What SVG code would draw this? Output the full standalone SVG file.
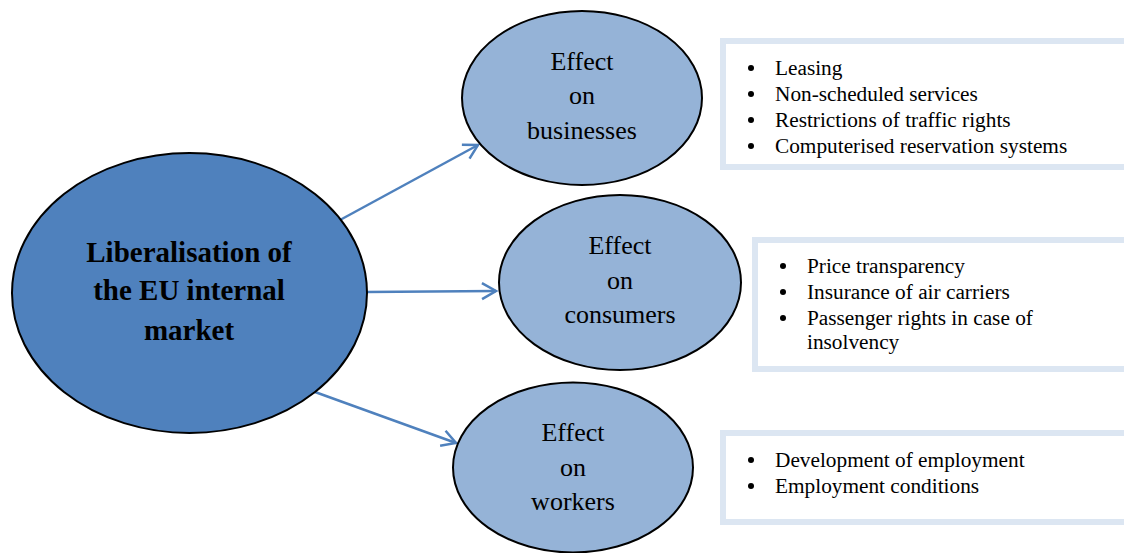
<svg xmlns="http://www.w3.org/2000/svg" width="1124" height="553" viewBox="0 0 1124 553">
<style>
.main{fill:#4f81bd;stroke:#000;stroke-width:2}
.sub{fill:#95b3d7;stroke:#000;stroke-width:2}
.box{fill:#fff;stroke:#dce6f2;stroke-width:6}
.conn{stroke:#4f81bd;stroke-width:2.5;fill:none}
.t{font-family:"Liberation Serif","Times New Roman",serif;fill:#000}
.mt{font-size:29px;font-weight:bold;text-anchor:middle}
.st{font-size:26px;text-anchor:middle}
.bt{font-size:21.3px}
</style>
<defs>
<marker id="ah" markerUnits="userSpaceOnUse" markerWidth="20" markerHeight="20" viewBox="0 0 20 20" refX="17" refY="10" orient="auto">
<path d="M3,2 L17,10 L3,18" fill="none" stroke="#4f81bd" stroke-width="2.5"/>
</marker>
</defs>
<rect width="1124" height="553" fill="#fff"/>
<g id="box-businesses">
<rect class="box" x="723" y="41" width="450" height="126"/>
<g class="t bt">
<circle cx="751" cy="68" r="3"/><text x="775" y="75">Leasing</text>
<circle cx="751" cy="94" r="3"/><text x="775" y="101">Non-scheduled services</text>
<circle cx="751" cy="120" r="3"/><text x="775" y="127">Restrictions of traffic rights</text>
<circle cx="751" cy="146" r="3"/><text x="775" y="153">Computerised reservation systems</text>
</g>
</g>
<g id="box-consumers">
<rect class="box" x="755" y="240" width="450" height="129"/>
<g class="t bt">
<circle cx="783" cy="266" r="3"/><text x="807" y="273">Price transparency</text>
<circle cx="783" cy="292" r="3"/><text x="807" y="299">Insurance of air carriers</text>
<circle cx="783" cy="318" r="3"/><text x="807" y="325">Passenger rights in case of</text>
<text x="807" y="349">insolvency</text>
</g>
</g>
<g id="box-workers">
<rect class="box" x="723" y="433" width="450" height="89"/>
<g class="t bt">
<circle cx="751" cy="460" r="3"/><text x="775" y="467">Development of employment</text>
<circle cx="751" cy="486" r="3"/><text x="775" y="493">Employment conditions</text>
</g>
</g>
<g id="connectors">
<line class="conn" x1="340" y1="220" x2="478" y2="145" marker-end="url(#ah)"/>
<line class="conn" x1="366" y1="292" x2="496" y2="291" marker-end="url(#ah)"/>
<line class="conn" x1="315" y1="392" x2="456" y2="443" marker-end="url(#ah)"/>
</g>
<g id="node-main">
<ellipse class="main" cx="189.5" cy="293" rx="177.5" ry="140"/>
<text class="t mt" x="189" y="262">Liberalisation of</text>
<text class="t mt" x="189" y="300">the EU internal</text>
<text class="t mt" x="189" y="340">market</text>
</g>
<g id="node-businesses">
<ellipse class="sub" cx="582" cy="98" rx="120" ry="87"/>
<text class="t st" x="582" y="70">Effect</text>
<text class="t st" x="582" y="104">on</text>
<text class="t st" x="582" y="139">businesses</text>
</g>
<g id="node-consumers">
<ellipse class="sub" cx="620" cy="282.5" rx="121" ry="87.5"/>
<text class="t st" x="620" y="254">Effect</text>
<text class="t st" x="620" y="289">on</text>
<text class="t st" x="620" y="323">consumers</text>
</g>
<g id="node-workers">
<ellipse class="sub" cx="573" cy="467.5" rx="120" ry="85"/>
<text class="t st" x="573" y="441">Effect</text>
<text class="t st" x="573" y="476">on</text>
<text class="t st" x="573" y="510">workers</text>
</g>
</svg>
